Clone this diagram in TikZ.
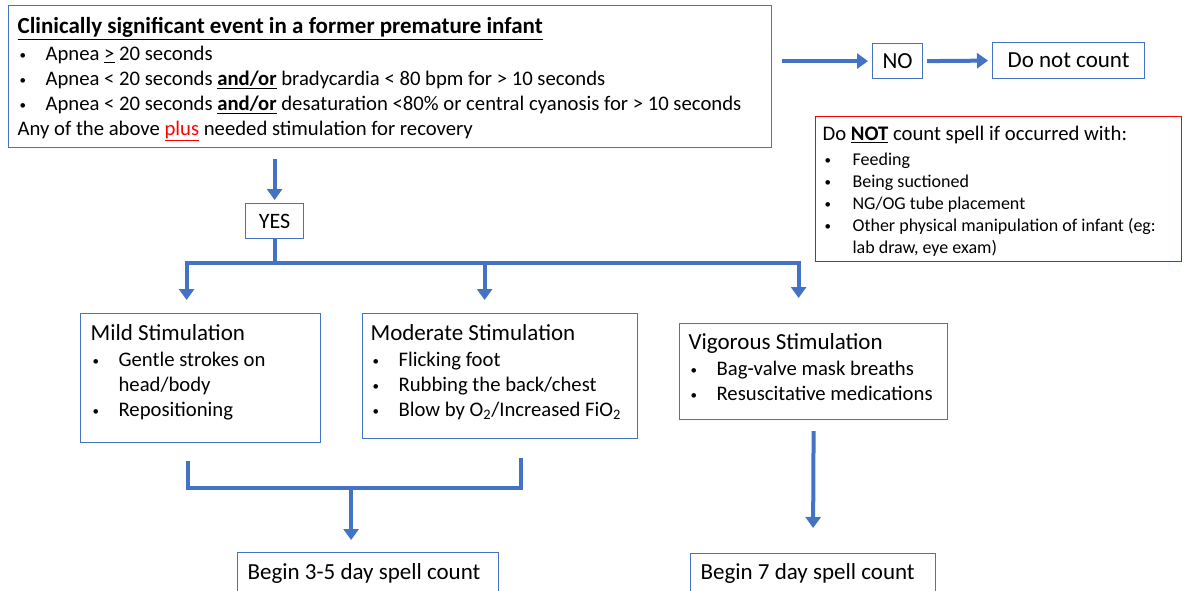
\documentclass[tikz,border=0pt]{standalone}
\usepackage{fontspec}
\setmainfont{Carlito}
\usetikzlibrary{arrows.meta,calc}

\definecolor{boxblue}{HTML}{4472C4}
\definecolor{flowblue}{HTML}{4472C4}
\definecolor{alertred}{HTML}{FF0000}

\newcommand{\dotmark}{\hspace*{2pt}\raisebox{1.6pt}{\fontsize{13}{13}\selectfont\textbullet}}
\newcommand{\itm}[2][28pt]{\makebox[#1][l]{\dotmark}#2}
\newcommand{\boxtext}[3]{\parbox[c][#2pt][t]{#1pt}{#3}}
\newcommand{\bodyfont}{\fontsize{20.7}{25}\selectfont}
\newcommand{\headfont}{\fontsize{23}{25}\selectfont}

\tikzset{
	flowbox/.style={draw=boxblue, line width=1.2pt, anchor=north west, inner xsep=9pt, inner ysep=0pt},
	alertbox/.style={flowbox, draw=alertred, inner xsep=7pt},
	flowline/.style={draw=flowblue, line width=4pt},
	flowarrow/.style={flowline, -{Triangle[length=11pt,width=15pt]}}
}

\begin{document}
\begin{tikzpicture}[x=1pt, y=-1pt]
	\useasboundingbox (0,0) rectangle (1182,590);

	\node[flowbox] (event) at (8,5) {\boxtext{745}{142}{\bodyfont
		\rule{0pt}{28pt}{\headfont\bfseries\underline{Clinically significant event in a former premature infant}}\\[2pt]
		\itm{Apnea \underline{>} 20 seconds}\\
		\itm{Apnea < 20 seconds \textbf{\underline{and/or}} bradycardia < 80 bpm for > 10 seconds}\\
		\itm{Apnea < 20 seconds \textbf{\underline{and/or}} desaturation <80\% or central cyanosis for > 10 seconds}\\
		Any of the above \textcolor{alertred}{\underline{plus}} needed stimulation for recovery}};

	\node[flowbox, inner sep=0pt, minimum width=50pt, minimum height=35pt, font=\headfont] (no) at (872,43) {NO};
	\node[flowbox, inner sep=0pt, minimum width=152pt, minimum height=36pt, font=\headfont] (nocount) at (992,42) {Do not count};

	\node[alertbox] (exclude) at (815,116) {\boxtext{352}{145}{\fontsize{18}{22}\selectfont
		\rule{0pt}{24pt}{\bodyfont Do \textbf{\underline{NOT}} count spell if occurred with:}\\[3pt]
		\itm[30pt]{Feeding}\\
		\itm[30pt]{Being suctioned}\\
		\itm[30pt]{NG/OG tube placement}\\
		\itm[30pt]{Other physical manipulation of infant (eg:}\\
		\hspace*{30pt}lab draw, eye exam)}};

	\node[flowbox, inner sep=0pt, minimum width=58pt, minimum height=35pt, font=\fontsize{22}{26}\selectfont] (yes) at (245,203) {YES};

	\node[flowbox, inner xsep=10pt] (mild) at (80,313) {\boxtext{220}{129}{\bodyfont
		\rule{0pt}{27pt}{\headfont Mild Stimulation}\\[1pt]
		\itm{Gentle strokes on}\\
		\hspace*{28pt}head/body\\
		\itm{Repositioning}}};
	\node[flowbox, inner xsep=8pt] (moderate) at (362,313) {\boxtext{259}{125}{\bodyfont
		\rule{0pt}{27pt}{\headfont Moderate Stimulation}\\[1pt]
		\itm{Flicking foot}\\
		\itm{Rubbing the back/chest}\\
		\itm{Blow by O\textsubscript{2}/Increased FiO\textsubscript{2}}}};
	\node[flowbox] (vigorous) at (679,323) {\boxtext{250}{96}{\bodyfont
		\rule{0pt}{26pt}{\headfont Vigorous Stimulation}\\[1pt]
		\itm{Bag-valve mask breaths}\\
		\itm{Resuscitative medications}}};

	\node[flowbox, inner xsep=10pt] (begin35) at (237,552) {\boxtext{241}{60}{\headfont
		\rule{0pt}{27pt}Begin 3-5 day spell count}};
	\node[flowbox, inner xsep=10pt] (begin7) at (690,553) {\boxtext{225}{60}{\headfont
		\rule{0pt}{26pt}Begin 7 day spell count}};

	\draw[flowarrow] ($(event.east |- no.west)+(10,0)$) -- ($(no.west)+(-4,0)$);
	\draw[flowarrow] ($(no.east)+(4,0)$) -- ($(nocount.west)+(-4,0)$);
	\draw[flowarrow] ($(event.south -| yes.north)+(0,11)$) -- ($(yes.north)+(0,-3)$);

	\coordinate (fork) at ($(yes.south)+(0,24)$);
	\coordinate (forkL) at ($(fork)+(-88,0)$);
	\coordinate (forkM) at ($(fork)+(210,0)$);
	\coordinate (forkR) at ($(fork)+(524,0)$);
	\draw[flowline] (yes.south) -- (fork);
	\draw[flowarrow] (fork) -- (forkL) -- ($(forkL |- mild.north)+(0,-13)$);
	\draw[flowarrow] (fork) -- (forkR) -- ($(forkR |- vigorous.north)+(0,-25)$);
	\draw[flowarrow] (forkM) -- ($(forkM |- moderate.north)+(0,-13)$);

	\coordinate (joinL) at ($(mild.south)+(-13,18)$);
	\coordinate (joinR) at ($(moderate.south)+(21,19)$);
	\coordinate (merge) at ($(begin35.north)+(-17,-64)$);
	\draw[flowline] (joinL) -- (joinL |- merge) -- (joinR |- merge) -- (joinR);
	\draw[flowarrow] (merge) -- ($(merge |- begin35.north)+(0,-12)$);
	\draw[flowarrow] ($(vigorous.south)+(0,11)$) -- ($(begin7.north)+(0,-25)$);
\end{tikzpicture}
\end{document}
